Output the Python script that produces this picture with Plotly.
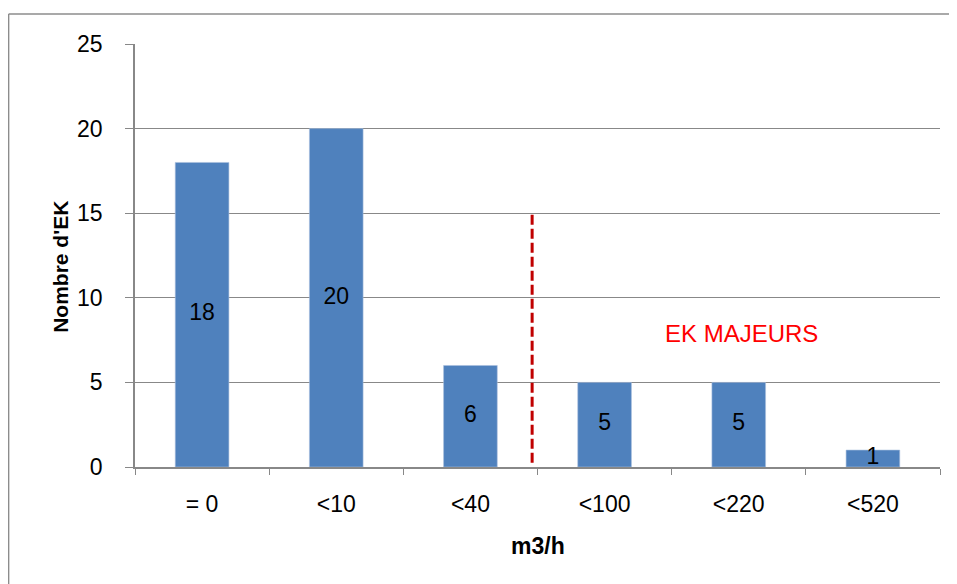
import plotly.graph_objects as go

categories = ["= 0", "<10", "<40", "<100", "<220", "<520"]
counts = [18, 20, 6, 5, 5, 1]
y_ticks = [0, 5, 10, 15, 20, 25]
x_title = "m3/h"
y_title = "Nombre d'EK"
note_text = "EK MAJEURS"
separator_x = 2.46
separator_top = 15.1
note_x = 4.02
note_y = 7.9

FONT = "Liberation Sans, Arial, sans-serif"
GRID = "#888888"
FRAME = "#8C8C8C"

fig = go.Figure()
fig.add_trace(go.Bar(
    x=categories, y=counts, width=0.4,
    marker=dict(color="#4F81BD", line=dict(color="#A9C0DE", width=0.6)),
    hoverinfo="skip", showlegend=False,
))
fig.add_trace(go.Scatter(
    x=categories, y=[v / 2 for v in counts], mode="text",
    text=[str(v) for v in counts],
    textfont=dict(family=FONT, size=23, color="black"),
    hoverinfo="skip", showlegend=False,
))

fig.add_shape(type="line", xref="x", yref="y",
              x0=separator_x, x1=separator_x, y0=0.25, y1=separator_top,
              line=dict(color="#C00000", width=3, dash="10px,4px"))
fig.add_annotation(x=note_x, y=note_y, xref="x", yref="y", text=note_text,
                   showarrow=False, font=dict(family=FONT, size=24, color="#FF0000"))

# outer chart frame (only top and left edges are visible in the crop)
fig.add_shape(type="line", xref="paper", yref="paper",
              x0=-0.157, x1=1.5, y0=1.071, y1=1.071,
              line=dict(color=FRAME, width=1.5), layer="below")
fig.add_shape(type="line", xref="paper", yref="paper",
              x0=-0.157, x1=-0.157, y0=-0.6, y1=1.071,
              line=dict(color=FRAME, width=1.5), layer="below")

fig.add_annotation(xref="paper", yref="paper", x=0.5, y=-0.187,
                   xanchor="center", yanchor="middle",
                   text=x_title, showarrow=False,
                   font=dict(family=FONT, size=23, color="black", weight="bold"))
fig.add_annotation(xref="paper", yref="paper", x=-0.092, y=0.473,
                   xanchor="center", yanchor="middle",
                   text=y_title, showarrow=False, textangle=-90,
                   font=dict(family=FONT, size=21, color="black", weight="bold"))

fig.update_layout(
    width=949, height=576,
    margin=dict(l=127, r=17, t=36, b=117),
    paper_bgcolor="white", plot_bgcolor="white",
    font=dict(family=FONT, size=23, color="black"),
    bargap=0.6,
    xaxis=dict(
        type="category", tickson="boundaries", ticks="outside", ticklen=6,
        tickcolor=GRID, showline=True, linecolor=GRID, linewidth=1.5,
        showgrid=False, tickfont=dict(size=23), ticklabelstandoff=16,
        range=[-0.5, 5.5],
    ),
    yaxis=dict(
        range=[0, 25], tickvals=y_ticks, ticks="outside", ticklen=8,
        tickcolor=GRID, showline=True, linecolor=GRID, linewidth=1.5,
        showgrid=True, gridcolor=GRID, gridwidth=1, zeroline=False,
        tickfont=dict(size=23), ticklabelstandoff=18,
    ),
)

fig.write_html(
    "out.html",
    config={"displayModeBar": False},
    post_script="document.documentElement.style.overflow='hidden';document.body.style.overflow='hidden';",
)
